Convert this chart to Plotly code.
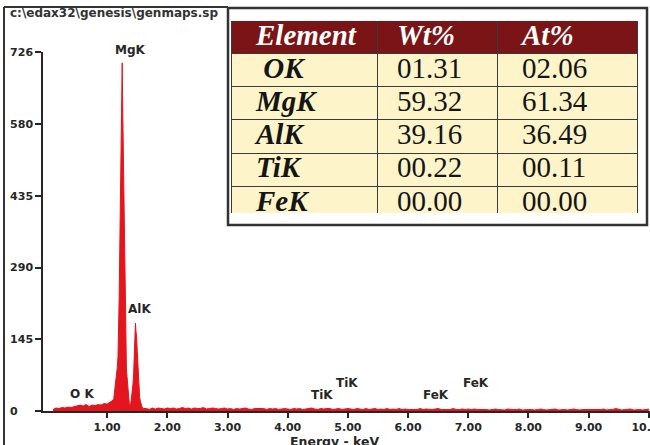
import numpy as np
import plotly.graph_objects as go

W, H = 650, 445

# ---------------- data ----------------
# spectrum counts (three energy segments)
low_energy = np.round(np.arange(0.10, 1.101, 0.05), 2)
low_counts = [3, 6, 5, 7, 6, 8, 7, 9, 11, 12, 10, 13, 9, 12, 11, 13, 12, 15, 14, 18, 22]

peak_energy = np.round(np.arange(1.11, 1.601, 0.01), 2)
peak_counts = [25, 35, 45, 55, 65, 75, 90, 110, 160, 230,
               330, 420, 520, 610, 704, 600, 500, 380, 270, 170,
               110, 85, 70, 50, 32, 18, 12, 12, 15, 22,
               30, 40, 55, 75, 100, 140, 178, 160, 150, 120,
               90, 60, 40, 28, 20, 14, 10, 8, 6, 5]

high_energy = np.round(np.arange(1.65, 10.001, 0.05), 2)
high_counts = [5, 3, 6, 4, 6, 5, 4, 6,
               5, 6, 4, 5, 7, 5, 6, 4, 6, 5, 5, 7, 4, 5, 6, 5, 4, 5, 6, 4,
               5, 3, 5, 4, 5, 6, 4, 3, 5, 5, 4, 5, 3, 5, 4, 5, 3, 4, 5, 4,
               3, 5, 4, 5, 3, 4, 5, 6, 4, 3, 5, 4, 5, 5, 3, 4, 5, 3, 4, 5,
               4, 3, 5, 4, 3, 5, 3, 4, 5, 3, 4, 3, 5, 3, 4, 3, 5, 3, 4, 3,
               3, 4, 3, 5, 3, 4, 3, 3, 4, 5, 3, 3, 4, 3, 5, 3, 3, 4, 3, 4,
               3, 4, 3, 3, 4, 3, 2, 3, 4, 3, 3, 2, 4, 3, 3, 3, 4, 2, 3, 3,
               3, 2, 3, 4, 3, 2, 3, 3, 4, 2, 3, 3, 2, 3, 4, 3, 2, 3, 3, 2,
               3, 3, 2, 3, 4, 2, 3, 3, 5, 3, 2, 3, 3, 4, 2, 3, 3, 2, 3, 4]

energy = list(low_energy) + list(peak_energy) + list(high_energy)
counts = low_counts + peak_counts + high_counts

y_ticks = [0, 145, 290, 435, 580, 726]
y_tick_labels = ["0", "145", "290", "435", "580", "726"]
x_ticks = [1, 2, 3, 4, 5, 6, 7, 8, 9, 10]
x_tick_labels = ["1.00", "2.00", "3.00", "4.00", "5.00", "6.00", "7.00", "8.00", "9.00", "10.00"]

# peak labels: text, energy (keV), vertical pixel row of the label
peak_labels = ["MgK", "AlK", "O K", "TiK", "TiK", "FeK", "FeK"]
peak_label_x = [1.38, 1.545, 0.58, 4.57, 4.98, 6.46, 7.13]
peak_label_py = [50, 309, 394, 395, 383, 395, 383]

# composition table
elements = ["OK", "MgK", "AlK", "TiK", "FeK"]
wt_pct = ["01.31", "59.32", "39.16", "00.22", "00.00"]
at_pct = ["02.06", "61.34", "36.49", "00.11", "00.00"]
table_header = ["Element", "Wt%", "At%"]
column_widths = [146, 120, 140]

# ---------------- figure ----------------
RED = "#e3161e"
INK = "#262626"
SANS = "DejaVu Sans"
SERIF = "Liberation Serif"
HEAD_FILL = "#7b1416"
CELL_FILL = "#fdf5c9"
GRID = "#3a3a3a"


def px(x):
    return x / W


def py(y):
    return 1 - y / H


fig = go.Figure()
fig.add_trace(go.Scatter(
    x=energy, y=counts, mode="lines",
    line=dict(color=RED, width=1),
    fill="tozeroy", fillcolor=RED,
    hoverinfo="skip", showlegend=False,
))

# ----- table as a small subplot (stacked horizontal bars = cells) -----
nb = "\u00a0"
rows = list(range(len(elements) + 1))
columns = [
    [f"<b><i>{table_header[0]}</i></b>"] + [f"<b><i>{nb if e == 'OK' else ''}{e}</i></b>" for e in elements],
    [f"<b><i>{table_header[1]}</i></b>"] + wt_pct,
    [f"<b><i>{table_header[2]}</i></b>"] + at_pct,
]
text_offsets = [24, 19, 24]
row_fill = [HEAD_FILL] + [CELL_FILL] * len(elements)
row_ink = ["white"] + ["#151515"] * len(elements)

start = 0
for w, col, off in zip(column_widths, columns, text_offsets):
    fig.add_trace(go.Bar(
        y=rows, x=[w] * len(rows), orientation="h", width=1,
        marker=dict(color=row_fill, line=dict(color=GRID, width=1.5)),
        xaxis="x2", yaxis="y2", hoverinfo="skip", showlegend=False,
    ))
    fig.add_trace(go.Scatter(
        y=rows, x=[start + off] * len(rows), mode="text", text=col,
        textposition="middle right",
        textfont=dict(family=SERIF, size=29, color=row_ink),
        xaxis="x2", yaxis="y2", hoverinfo="skip", showlegend=False,
        cliponaxis=True,
    ))
    start += w

axis_common = dict(
    showgrid=False, zeroline=False, showline=True, linecolor=INK, linewidth=1.5,
    ticks="outside", tickcolor=INK, tickwidth=1.5, automargin=False,
    tickfont=dict(family=SANS, size=11, color=INK, weight="bold"),
)

total_w = sum(column_widths)
fig.update_layout(
    width=W, height=H,
    margin=dict(l=0, r=0, t=0, b=0),
    paper_bgcolor="white", plot_bgcolor="white",
    barmode="stack", bargap=0,
    xaxis=dict(
        domain=[px(43), 1], range=[-0.066, 10.02],
        tickvals=x_ticks, ticktext=x_tick_labels, ticklen=5,
        ticklabeloverflow="allow", ticklabelstandoff=0,
        **axis_common,
    ),
    yaxis=dict(
        domain=[py(411), py(52)], range=[0, 726],
        tickvals=y_ticks,
        ticktext=[t if len(t) > 1 else t + nb * 4 for t in y_tick_labels],
        ticklen=6,
        **axis_common,
    ),
    xaxis2=dict(domain=[px(231), px(639)], range=[-1, total_w + 1], visible=False,
                fixedrange=True, automargin=False, anchor="y2"),
    yaxis2=dict(domain=[py(213), py(21)], range=[len(rows) - 0.71, -0.5], visible=False,
                fixedrange=True, automargin=False, anchor="x2"),
    showlegend=False,
)

# peak labels
for t, xv, yp in zip(peak_labels, peak_label_x, peak_label_py):
    fig.add_annotation(x=xv, y=py(yp), xref="x", yref="paper", yanchor="middle",
                       text=f"<b>{t}</b>", showarrow=False,
                       font=dict(family=SANS, size=12, color=INK))

# axis title
fig.add_annotation(x=4.78, y=py(441), xref="x", yref="paper", yanchor="middle",
                   text="<b>Energy - keV</b>", showarrow=False,
                   font=dict(family=SANS, size=12.5, color=INK))

# file title
fig.add_annotation(x=px(8), y=py(13), xref="paper", yref="paper", xanchor="left", yanchor="middle",
                   text="<b>c:\\edax32\\genesis\\genmaps.sp</b>", showarrow=False,
                   font=dict(family=SANS, size=12, color="#333333"))

# frame lines and table box
fig.add_shape(type="line", xref="paper", yref="paper", x0=px(4), x1=px(4), y0=py(7), y1=py(446),
              line=dict(color="#333333", width=2))
fig.add_shape(type="line", xref="paper", yref="paper", x0=px(4), x1=px(228), y0=py(7), y1=py(7),
              line=dict(color="#333333", width=2))
fig.add_shape(type="rect", xref="paper", yref="paper", x0=px(228), x1=px(647), y0=py(225), y1=py(8),
              line=dict(color="#333333", width=2.5), fillcolor="rgba(0,0,0,0)", layer="below")

fig.write_html("out.html")
